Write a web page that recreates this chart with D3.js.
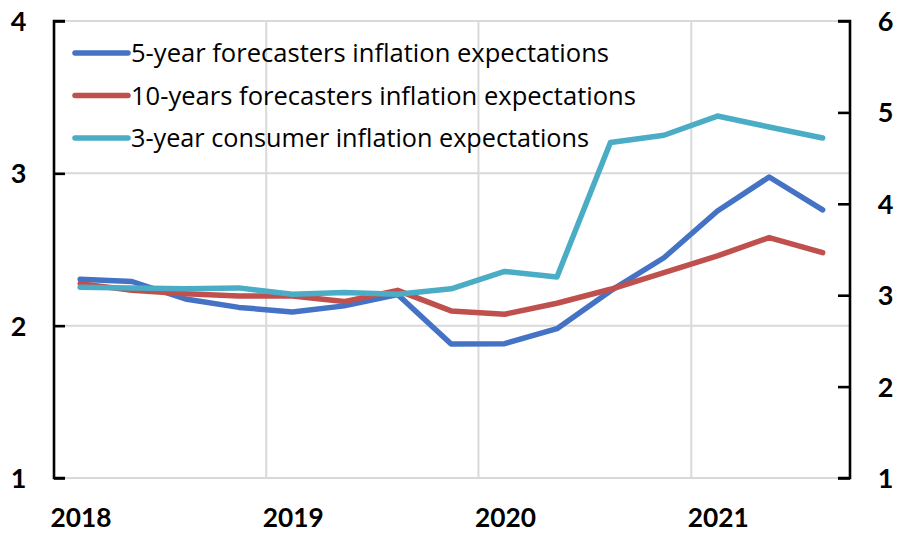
<!DOCTYPE html>
<html><head><meta charset="utf-8">
<script src="https://cdn.jsdelivr.net/npm/d3@7"></script>
<style>body{margin:0;background:#fff}svg{display:block}</style>
</head><body>
<svg id="c" width="900" height="534"></svg>
<script>
const dates = ["2018-02-15","2018-05-15","2018-08-15","2018-11-15","2019-02-15","2019-05-15","2019-08-15","2019-11-15","2020-02-15","2020-05-15","2020-08-15","2020-11-15","2021-02-15","2021-05-15","2021-08-15"];
const fiveYear = [2.305,2.29,2.175,2.12,2.09,2.13,2.205,1.88,1.882,1.98,2.228,2.446,2.753,2.976,2.76];
const tenYear = [2.276,2.232,2.21,2.195,2.195,2.158,2.232,2.097,2.075,2.147,2.239,2.348,2.458,2.578,2.479];
const consumer3 = [3.087,3.08,3.07,3.08,3.01,3.03,3.01,3.07,3.26,3.20,4.67,4.75,4.96,4.84,4.72];
const seriesNames = ["5-year forecasters inflation expectations","10-years forecasters inflation expectations","3-year consumer inflation expectations"];
const leftTicks = [1,2,3,4];
const rightTicks = [1,2,3,4,5,6];
const yearTicks = ["2018","2019","2020","2021"];

const parse = d3.timeParse("%Y-%m-%d");
const colors = ["#4472C4","#C0504D","#4BACC6"];
const svg = d3.select("#c");
const L = 54, R = 850, T = 21, B = 478;
const x = d3.scaleTime().domain([new Date(2018,0,1), new Date(2021,9,1)]).range([L,R]);
const yL = d3.scaleLinear().domain([1,4]).range([B,T]);
const yR = d3.scaleLinear().domain([1,6]).range([B,T]);

// gridlines
const g = svg.append("g");
g.selectAll("line.h").data(leftTicks).join("line")
  .attr("x1",L).attr("x2",R).attr("y1",d=>yL(d)).attr("y2",d=>yL(d))
  .attr("stroke","#d9d9d9").attr("stroke-width",2);
g.selectAll("line.v").data(yearTicks.slice(1)).join("line")
  .attr("x1",d=>x(new Date(+d,0,1))).attr("x2",d=>x(new Date(+d,0,1))).attr("y1",T).attr("y2",B)
  .attr("stroke","#d9d9d9").attr("stroke-width",2);

// axes
const axL = svg.append("g").attr("transform",`translate(${L},0)`)
  .call(d3.axisRight(yL).tickValues(leftTicks).tickSize(11).tickFormat(""));
const axR = svg.append("g").attr("transform",`translate(${R},0)`)
  .call(d3.axisLeft(yR).tickValues(rightTicks).tickSize(12).tickFormat(""));
[axL,axR].forEach(a=>{
  a.select(".domain").attr("stroke","#000").attr("stroke-width",2.6);
  a.selectAll(".tick line").attr("stroke","#000").attr("stroke-width",2.6);
});
axL.select(".domain").attr("d",`M11,${T}H0V${B}H11`);
axR.select(".domain").attr("d",`M-12,${T}H0V${B}H-12`);

const font = "Lato, 'Open Sans', sans-serif";
svg.selectAll("text.yl").data(leftTicks).join("text")
  .attr("x",18.5).attr("y",d=>yL(d)+10).attr("text-anchor","middle")
  .attr("font-family",font).attr("font-weight","bold").attr("font-size",27).text(d=>d);
svg.selectAll("text.yr").data(rightTicks).join("text")
  .attr("x",885.5).attr("y",d=>yR(d)+10).attr("text-anchor","middle")
  .attr("font-family",font).attr("font-weight","bold").attr("font-size",27).text(d=>d);
svg.selectAll("text.xl").data(yearTicks).join("text")
  .attr("x",d=>x(new Date(+d,0,1))+27).attr("y",527).attr("text-anchor","middle")
  .attr("font-family",font).attr("font-weight","bold").attr("font-size",27)
  .attr("textLength",61).attr("lengthAdjust","spacingAndGlyphs").text(d=>d);

// lines
const pts = dates.map(parse);
const data = [
  {vals:fiveYear, y:yL},
  {vals:tenYear, y:yL},
  {vals:consumer3, y:yR}
];
data.forEach((s,i)=>{
  svg.append("path")
    .datum(s.vals)
    .attr("fill","none").attr("stroke",colors[i]).attr("stroke-width",5.5)
    .attr("stroke-linejoin","round").attr("stroke-linecap","round")
    .attr("d",d3.line().x((d,j)=>x(pts[j])).y(d=>s.y(d)));
});

// legend
const legY = [53,95.5,138];
const legW = [478,505,458];
seriesNames.forEach((n,i)=>{
  svg.append("line").attr("x1",75).attr("x2",128).attr("y1",legY[i]).attr("y2",legY[i])
    .attr("stroke",colors[i]).attr("stroke-width",5.5).attr("stroke-linecap","round");
  svg.append("text").attr("x",131).attr("y",legY[i]+9)
    .attr("font-family","'Open Sans', Lato, sans-serif").attr("font-size",25).attr("fill","#000")
    .attr("textLength",legW[i]).attr("lengthAdjust","spacingAndGlyphs").text(n);
});
</script>
</body></html>
